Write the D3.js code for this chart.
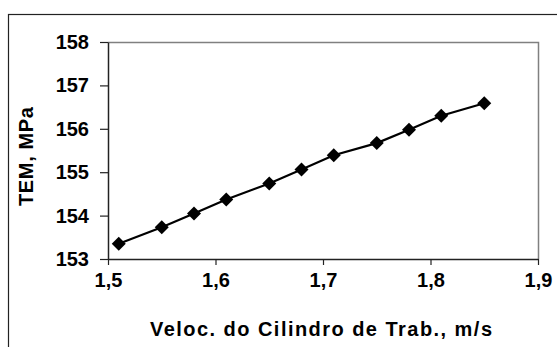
<!DOCTYPE html>
<html>
<head>
<meta charset="utf-8">
<script src="https://cdn.jsdelivr.net/npm/d3@7"></script>
<style>
  html, body { margin: 0; padding: 0; background: #fff; }
  svg { display: block; }
  text { font-family: "Liberation Sans", Arial, sans-serif; font-weight: bold; fill: #000; }
</style>
</head>
<body>
<svg id="chart" width="557" height="347"></svg>
<script>
const velocities = [1.51, 1.55, 1.58, 1.61, 1.65, 1.68, 1.71, 1.75, 1.78, 1.81, 1.85];
const temValues = [153.35, 153.73, 154.05, 154.37, 154.74, 155.06, 155.39, 155.67, 155.98, 156.30, 156.59];
const xTicks = [1.5, 1.6, 1.7, 1.8, 1.9];
const yTicks = [153, 154, 155, 156, 157, 158];
const xTitle = "Veloc. do Cilindro de Trab., m/s";
const yTitle = "TEM, MPa";

const svg = d3.select("#chart");
const plot = { left: 108, right: 538, top: 42, bottom: 259 };

svg.append("rect")
  .attr("x", 8.5).attr("y", 14.5).attr("width", 700).attr("height", 500)
  .attr("fill", "#fff").attr("stroke", "#222").attr("stroke-width", 1.2);

const x = d3.scaleLinear().domain([1.5, 1.9]).range([plot.left, plot.right]);
const y = d3.scaleLinear().domain([153, 158]).range([plot.bottom, plot.top]);

svg.append("path")
  .attr("d", `M${plot.left},${plot.top + 0.5}H${plot.right + 0.5}V${plot.bottom}`)
  .attr("fill", "none").attr("stroke", "#808080").attr("stroke-width", 1.5);

const fmt = d => d3.format(".1f")(d).replace(".", ",");

const xAxis = svg.append("g")
  .attr("transform", `translate(0,${plot.bottom})`)
  .call(d3.axisBottom(x).tickValues(xTicks).tickFormat(fmt).tickSize(6).tickPadding(18).tickSizeOuter(0));
const yAxis = svg.append("g")
  .attr("transform", `translate(${plot.left},0)`)
  .call(d3.axisLeft(y).tickValues(yTicks).tickFormat(d3.format("d")).tickSize(8).tickPadding(11).tickSizeOuter(0));

[xAxis, yAxis].forEach(g => {
  g.attr("font-size", null).attr("font-family", null);
  g.select(".domain").attr("stroke", "#222").attr("stroke-width", 1.5);
  g.selectAll(".tick line").attr("stroke", "#222").attr("stroke-width", 1.2);
  g.selectAll(".tick text")
    .style("font-family", "'Liberation Sans', Arial, sans-serif")
    .style("font-weight", "bold").style("font-size", "20px").attr("fill", "#000");
});
xAxis.selectAll(".tick text").attr("dy", "0.2em");

const data = velocities.map((v, i) => ({ v, t: temValues[i] }));
svg.append("path")
  .datum(data)
  .attr("fill", "none").attr("stroke", "#000").attr("stroke-width", 2.2)
  .attr("d", d3.line().x(d => x(d.v)).y(d => y(d.t)));

svg.selectAll("path.marker")
  .data(data).enter().append("path")
  .attr("class", "marker")
  .attr("d", "M0,-7L7,0L0,7L-7,0Z")
  .attr("transform", d => `translate(${x(d.v)},${y(d.t)})`)
  .attr("fill", "#000");

svg.append("text")
  .attr("x", 150).attr("y", 336)
  .style("font-size", "20px")
  .attr("textLength", 342).attr("lengthAdjust", "spacing")
  .text(xTitle);

svg.append("text")
  .attr("transform", "translate(33,206) rotate(-90)")
  .attr("x", 0).attr("y", 0)
  .style("font-size", "20px")
  .attr("textLength", 99).attr("lengthAdjust", "spacing")
  .text(yTitle);
</script>
</body>
</html>
